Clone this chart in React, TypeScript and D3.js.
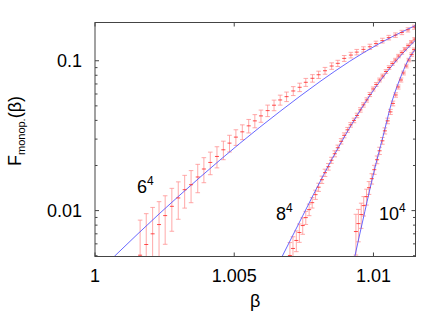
import React from 'react';
import * as d3 from 'd3';

// lattice 6^4
const beta6 = [1.00162, 1.00184, 1.00207, 1.0023, 1.00252, 1.00276, 1.00299, 1.00322, 1.00345, 1.00369, 1.00391, 1.00414, 1.00438, 1.00461, 1.00483, 1.00506, 1.00529, 1.00552, 1.00574, 1.00596, 1.0062, 1.00643, 1.00665, 1.00688, 1.00712, 1.00735, 1.00757, 1.00781, 1.00803, 1.00826, 1.0085, 1.00872, 1.00895, 1.00919, 1.0094, 1.00964, 1.00987, 1.01009, 1.01032, 1.01055, 1.01079, 1.01102, 1.01124, 1.01147];
const value6 = [0.00504, 0.00594, 0.007, 0.00807, 0.00926, 0.01068, 0.01215, 0.01379, 0.01489, 0.01676, 0.01895, 0.02096, 0.02298, 0.02546, 0.02821, 0.03093, 0.03355, 0.03678, 0.0397, 0.04285, 0.04649, 0.0505, 0.05475, 0.0576, 0.06287, 0.06653, 0.07183, 0.07638, 0.08068, 0.08578, 0.09222, 0.0961, 0.1037, 0.1091, 0.1142, 0.1191, 0.124, 0.1302, 0.1363, 0.1427, 0.1483, 0.1545, 0.1608, 0.1676];
const error6 = [0.0036, 0.0036, 0.0035, 0.0034, 0.0033, 0.0034, 0.0034, 0.0034, 0.0036, 0.0036, 0.0036, 0.0036, 0.0037, 0.0036, 0.0036, 0.0037, 0.0038, 0.0038, 0.004, 0.004, 0.0041, 0.0041, 0.0042, 0.0042, 0.0043, 0.0043, 0.0044, 0.0044, 0.0045, 0.0045, 0.0046, 0.0046, 0.0047, 0.0047, 0.0048, 0.0048, 0.0049, 0.0049, 0.005, 0.005, 0.0051, 0.0051, 0.0052, 0.0052];
const fitBeta6 = [1.00069, 1.00233, 1.00377, 1.0052, 1.00664, 1.00808, 1.00915, 1.01023, 1.01152];
const fitValue6 = [0.00494, 0.00961, 0.01668, 0.02808, 0.04585, 0.07261, 0.09924, 0.1308, 0.1723];

// lattice 8^4
const beta8 = [1.007, 1.00711, 1.00723, 1.00734, 1.00746, 1.00757, 1.00769, 1.0078, 1.00792, 1.00803, 1.00815, 1.00826, 1.00838, 1.00849, 1.00861, 1.00872, 1.00884, 1.00895, 1.00907, 1.00918, 1.0093, 1.00941, 1.00953, 1.00964, 1.00976, 1.00987, 1.00999, 1.0101, 1.01022, 1.01033, 1.01045, 1.01056, 1.01068, 1.01079, 1.0109, 1.01102, 1.01113, 1.01125, 1.01136, 1.01148];
const value8 = [0.00502, 0.00559, 0.00632, 0.00714, 0.00795, 0.00898, 0.01015, 0.0113, 0.01278, 0.01433, 0.01608, 0.0179, 0.01962, 0.02168, 0.02395, 0.02626, 0.02901, 0.0318, 0.03459, 0.03735, 0.04, 0.04318, 0.04699, 0.05073, 0.05475, 0.05956, 0.06483, 0.06945, 0.0744, 0.0791, 0.08475, 0.0901, 0.09581, 0.1011, 0.1075, 0.1134, 0.1196, 0.1262, 0.1332, 0.1394];
const error8 = [0.0011, 0.0011, 0.001, 0.001, 0.001, 0.0009, 0.0009, 0.0009, 0.0009, 0.0009, 0.0009, 0.001, 0.001, 0.001, 0.0011, 0.0011, 0.0012, 0.0012, 0.0013, 0.0013, 0.0014, 0.0015, 0.0016, 0.0017, 0.0018, 0.0019, 0.002, 0.0021, 0.0022, 0.0023, 0.0024, 0.0025, 0.0026, 0.0027, 0.0028, 0.0029, 0.003, 0.0031, 0.0032, 0.0033];
const fitBeta8 = [1.00672, 1.00747, 1.00822, 1.00883, 1.00939, 1.00999, 1.01059, 1.01119, 1.01152];
const fitValue8 = [0.00494, 0.00932, 0.01747, 0.02825, 0.04254, 0.06306, 0.08901, 0.1194, 0.1378];

// lattice 10^4
const beta10 = [1.00937, 1.00946, 1.00956, 1.00965, 1.00975, 1.00984, 1.00994, 1.01003, 1.01013, 1.01022, 1.01032, 1.01041, 1.01051, 1.01061, 1.0107, 1.0108, 1.01089, 1.01099, 1.01108, 1.01118, 1.01127, 1.01137, 1.01146];
const value10 = [0.00725, 0.00819, 0.00941, 0.0108, 0.01239, 0.01422, 0.01633, 0.01875, 0.02185, 0.02507, 0.02923, 0.03406, 0.0397, 0.04557, 0.0519, 0.05911, 0.06683, 0.0744, 0.08285, 0.09222, 0.1011, 0.11, 0.1187];
const error10 = [0.0022, 0.002, 0.0018, 0.0016, 0.0015, 0.0014, 0.0013, 0.0013, 0.0013, 0.0014, 0.0015, 0.0016, 0.0017, 0.0018, 0.0019, 0.002, 0.0021, 0.0023, 0.0024, 0.0026, 0.0027, 0.0029, 0.003];
const fitBeta10 = [1.00933, 1.00969, 1.01001, 1.01034, 1.01066, 1.01095, 1.01123, 1.01152];
const fitValue10 = [0.00494, 0.009848, 0.0179, 0.03107, 0.05311, 0.07555, 0.09954, 0.1205];

const xTicks = [1, 1.005, 1.01];
const xTickLabels = ['1', '1.005', '1.01'];
const yTicks = [0.01, 0.1];
const yTickLabels = ['0.01', '0.1'];

const font = '"Liberation Sans", Arial, Helvetica, sans-serif';

const App = () => {
  const width = 447;
  const height = 313;
  const m = { l: 95, r: 31.5, t: 22.5, b: 56.5 };

  const x = d3.scaleLinear().domain([1, 1.01151]).range([m.l, width - m.r]);
  const y = d3.scaleLog().domain([0.00494, 0.18]).range([height - m.b, m.t]);

  const line = d3.line<[number, number]>()
    .x(d => x(d[0]))
    .y(d => y(Math.max(d[1], 1e-4)))
    .curve(d3.curveMonotoneX);

  const series = [
    { beta: beta6, value: value6, error: error6, fb: fitBeta6, fv: fitValue6 },
    { beta: beta8, value: value8, error: error8, fb: fitBeta8, fv: fitValue8 },
    { beta: beta10, value: value10, error: error10, fb: fitBeta10, fv: fitValue10 },
  ];

  const x0 = m.l, x1 = width - m.r, y0 = m.t, y1 = height - m.b;
  const minorY = y.ticks().filter(t => !yTicks.some(v => Math.abs(v - t) < 1e-9));
  const cap = 2.3;

  return (
    <svg width={width} height={height} style={{ position: 'absolute', left: 0, top: 0, background: '#fff' }}
      fontFamily={font}>
      <defs>
        <clipPath id="plot">
          <rect x={x0} y={y0} width={x1 - x0} height={y1 - y0} />
        </clipPath>
      </defs>

      <g clipPath="url(#plot)">
        {series.map((s, k) => (
          <g key={'e' + k}>
            {s.beta.map((b, i) => {
              const cx = x(b);
              const hi = y(s.value[i] + s.error[i]);
              const lo = y(Math.max(s.value[i] - s.error[i], 1e-4));
              return (
                <g key={i}>
                  <line x1={cx} x2={cx} y1={hi} y2={lo} stroke="#ff8c8c" strokeOpacity={0.75} strokeWidth={1} />
                  <line x1={cx - cap} x2={cx + cap} y1={hi} y2={hi} stroke="#ff8c8c" strokeOpacity={0.75} strokeWidth={1} />
                  <line x1={cx - cap} x2={cx + cap} y1={lo} y2={lo} stroke="#ff8c8c" strokeOpacity={0.75} strokeWidth={1} />
                </g>
              );
            })}
          </g>
        ))}
        {series.map((s, k) => (
          <path key={'f' + k} d={line(s.fb.map((b, i) => [b, s.fv[i]] as [number, number])) || ''}
            fill="none" stroke="#4d4dff" strokeOpacity={0.85} strokeWidth={1} />
        ))}
        {series.map((s, k) => (
          <g key={'p' + k}>
            {s.beta.map((b, i) => (
              <line key={i} x1={x(b) - 2} x2={x(b) + 2} y1={y(s.value[i])} y2={y(s.value[i])}
                stroke="#ff2020" strokeOpacity={0.8} strokeWidth={1} />
            ))}
          </g>
        ))}
      </g>

      {/* frame */}
      <rect x={x0} y={y0} width={x1 - x0} height={y1 - y0} fill="none" stroke="#444" strokeWidth={1} />

      {/* x ticks */}
      {xTicks.map((t, i) => (
        <g key={'xt' + i}>
          <line x1={x(t)} x2={x(t)} y1={y1} y2={y1 - 4} stroke="#444" />
          <line x1={x(t)} x2={x(t)} y1={y0} y2={y0 + 4} stroke="#444" />
          <text x={x(t)} y={282} textAnchor="middle" fontSize={18} fill="#000">{xTickLabels[i]}</text>
        </g>
      ))}

      {/* y ticks */}
      {yTicks.map((t, i) => (
        <g key={'yt' + i}>
          <line x1={x0} x2={x0 + 4} y1={y(t)} y2={y(t)} stroke="#444" />
          <line x1={x1} x2={x1 - 4} y1={y(t)} y2={y(t)} stroke="#444" />
          <text x={82} y={y(t) + 6.5} textAnchor="end" fontSize={18} fill="#000">{yTickLabels[i]}</text>
        </g>
      ))}
      {minorY.map((t, i) => (
        <g key={'ym' + i}>
          <line x1={x0} x2={x0 + 2.5} y1={y(t)} y2={y(t)} stroke="#444" />
          <line x1={x1} x2={x1 - 2.5} y1={y(t)} y2={y(t)} stroke="#444" />
        </g>
      ))}

      {/* axis titles */}
      <text x={(x0 + x1) / 2} y={307} textAnchor="middle" fontSize={18} fill="#000">β</text>
      <text transform="translate(21,131) rotate(-90)" textAnchor="middle" fontSize={18} fill="#000">
        F<tspan fontSize={11} dy={4}>monop.</tspan><tspan dy={-4}>(β)</tspan>
      </text>

      {/* lattice labels */}
      <text x={137} y={193} fontSize={18} fill="#000">6<tspan fontSize={12} dy={-8}>4</tspan></text>
      <text x={276} y={220} fontSize={18} fill="#000">8<tspan fontSize={12} dy={-8}>4</tspan></text>
      <text x={379} y={220} fontSize={18} fill="#000">10<tspan fontSize={12} dy={-8}>4</tspan></text>
    </svg>
  );
};

export default App;
